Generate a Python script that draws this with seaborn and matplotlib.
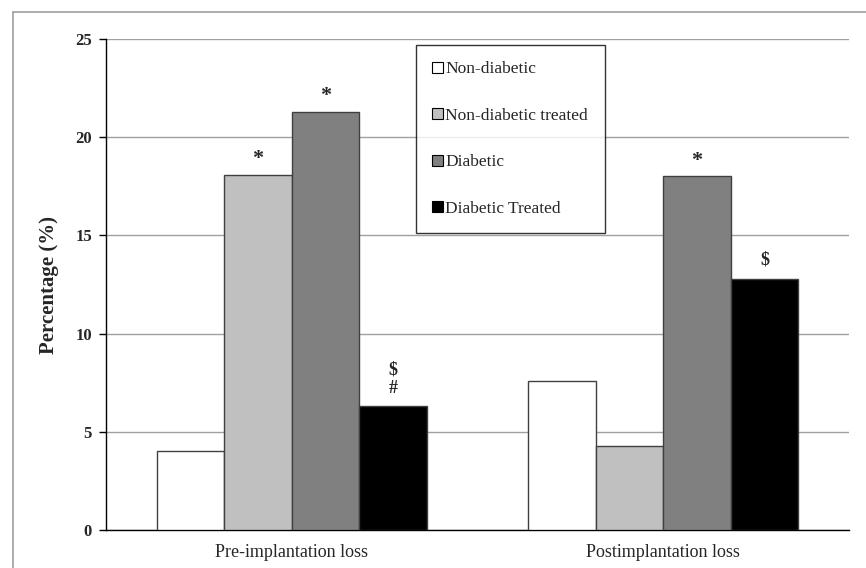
import pandas as pd
import matplotlib
matplotlib.use('Agg')
import matplotlib.pyplot as plt
from matplotlib.lines import Line2D
import seaborn as sns

# Data
stages = ['Pre-implantation loss', 'Postimplantation loss']
groups = ['Non-diabetic', 'Non-diabetic treated', 'Diabetic', 'Diabetic Treated']
non_diabetic = [4.0, 7.6]
non_diabetic_treated = [18.1, 4.3]
diabetic = [21.3, 18.0]
diabetic_treated = [6.3, 12.8]
# significance marks per group, per stage
marks = {
    'Non-diabetic': ['', ''],
    'Non-diabetic treated': ['*', ''],
    'Diabetic': ['*', '*'],
    'Diabetic Treated': ['$\n#', '$'],
}
colors = ['#ffffff', '#c0c0c0', '#808080', '#000000']

series = [non_diabetic, non_diabetic_treated, diabetic, diabetic_treated]
rows = []
for g, vals in zip(groups, series):
    for s, v in zip(stages, vals):
        rows.append({'stage': s, 'group': g, 'value': v})
df = pd.DataFrame(rows)

sns.set_style('white')
plt.rcParams['font.family'] = ['Liberation Serif', 'DejaVu Serif']

fig = plt.figure(figsize=(8.66, 5.68), dpi=100)
ax = fig.add_axes([0.1224, 0.0669, 0.8580, 0.8644])

sns.barplot(data=df, x='stage', y='value', hue='group', order=stages,
            hue_order=groups, palette=colors, width=0.726, gap=0,
            edgecolor='#404040', linewidth=1, saturation=1, ax=ax, zorder=3)

ax.set_xlim(-0.5, 1.5)
ax.set_ylim(0, 25)
ax.set_yticks([0, 5, 10, 15, 20, 25])
ax.yaxis.grid(True, color='#a0a0a0', linewidth=1, zorder=0)
ax.set_axisbelow(True)
for side in ['top', 'right']:
    ax.spines[side].set_visible(False)
for side in ['left', 'bottom']:
    ax.spines[side].set_color('black')
    ax.spines[side].set_linewidth(1)

ax.tick_params(axis='y', direction='out', length=5, width=1, color='black',
               labelsize=12, pad=5, left=True)
ax.tick_params(axis='x', length=0, labelsize=13, pad=10)
for lab in ax.get_yticklabels():
    lab.set_fontweight('bold')
ax.set_xlabel('')
ax.set_ylabel('Percentage (%)', fontsize=15, fontweight='bold', labelpad=12)

# significance marks above bars
for g, cont in zip(groups, ax.containers):
    for bar, m in zip(cont, marks[g]):
        if not m:
            continue
        top = bar.get_height()
        big = m == '*'
        ax.annotate(m.replace('$', r'\$'), (bar.get_x() + bar.get_width() / 2, top),
                    xytext=(0, 4 if big else 7), textcoords='offset points',
                    ha='center', va='bottom', fontsize=16 if big else 13,
                    fontweight='bold', linespacing=1.1)

leg = ax.legend(loc='upper left', bbox_to_anchor=(0.417, 0.988),
                borderaxespad=0, frameon=True, fancybox=False, fontsize=12.5,
                handlelength=0.6, handleheight=0.6, handletextpad=0.15,
                labelspacing=1.75, borderpad=0.95)
leg.get_frame().set_edgecolor('black')
leg.get_frame().set_linewidth(1)
for h in leg.legend_handles:
    h.set_edgecolor('black')
    h.set_linewidth(0.8)

# outer frame of the original figure
fig.add_artist(Line2D([0.015, 1.0], [0.979, 0.979], color='#a0a0a0', lw=1.2))
fig.add_artist(Line2D([0.015, 0.015], [0.0, 0.979], color='#a0a0a0', lw=1.2))

fig.savefig('out.png', dpi=100)
plt.close(fig)
